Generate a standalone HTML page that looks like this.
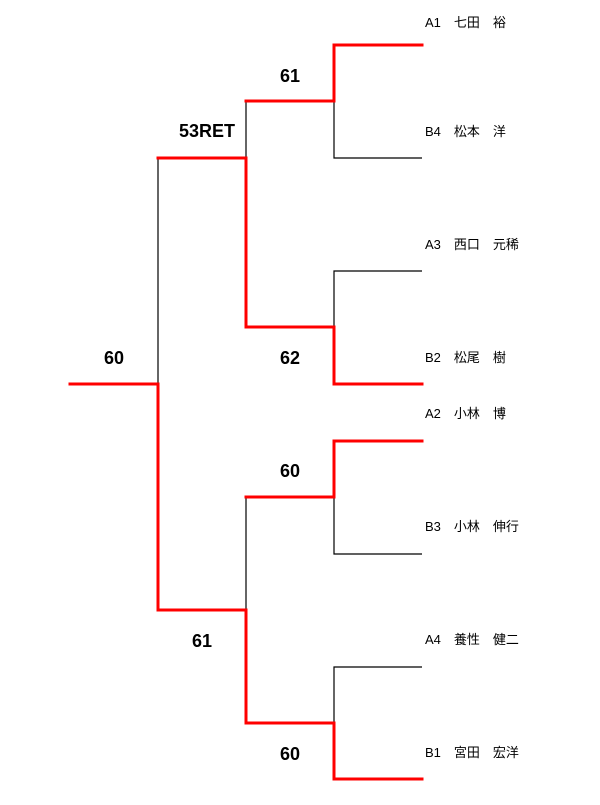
<!DOCTYPE html>
<html><head><meta charset="utf-8"><style>
html,body{margin:0;padding:0;background:#fff;}
svg text{font-family:"Liberation Sans","Noto Sans CJK JP",sans-serif;}
.n{font-size:13px;fill:#000;}
.s{font-size:18px;font-weight:bold;fill:#000;}
</style></head><body>
<svg width="600" height="800" viewBox="0 0 600 800" xmlns="http://www.w3.org/2000/svg">
<g stroke="#000" stroke-width="1.2" fill="none">
<path d="M334 101V158H422"/>
<path d="M334 327V271H422"/>
<path d="M334 497V554H422"/>
<path d="M334 723V667H422"/>
<path d="M246 158V101"/>
<path d="M246 610V497"/>
<path d="M158 384V158"/>
</g>
<g stroke="#f00" stroke-width="3" fill="none" stroke-linecap="square">
<path d="M422 45H334V101H246"/>
<path d="M422 384H334V327H246V158H158"/>
<path d="M422 441H334V497H246"/>
<path d="M422 779H334V723H246V610H158V384H70"/>
</g>
<text class="s" x="290" y="82" text-anchor="middle">61</text>
<text class="s" x="207" y="137" text-anchor="middle">53RET</text>
<text class="s" x="290" y="364" text-anchor="middle">62</text>
<text class="s" x="114" y="364" text-anchor="middle">60</text>
<text class="s" x="290" y="477" text-anchor="middle">60</text>
<text class="s" x="202" y="647" text-anchor="middle">61</text>
<text class="s" x="290" y="760" text-anchor="middle">60</text>
<text class="n" x="425" y="27">A1　七田　裕</text>
<text class="n" x="425" y="136">B4　松本　洋</text>
<text class="n" x="425" y="249">A3　西口　元稀</text>
<text class="n" x="425" y="362">B2　松尾　樹</text>
<text class="n" x="425" y="418">A2　小林　博</text>
<text class="n" x="425" y="531">B3　小林　伸行</text>
<text class="n" x="425" y="644">A4　養性　健二</text>
<text class="n" x="425" y="757">B1　宮田　宏洋</text>
</svg>
</body></html>
